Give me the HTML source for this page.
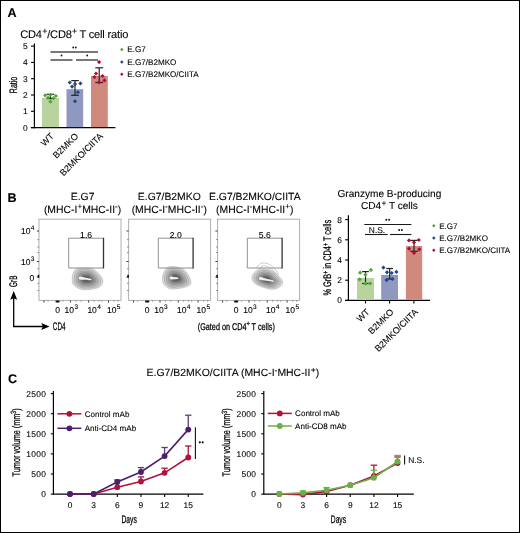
<!DOCTYPE html>
<html><head><meta charset="utf-8"><style>
html,body{margin:0;padding:0;background:#fff;}
#fig{position:relative;width:520px;height:533px;overflow:hidden;background:#fff;}
#fig svg{position:absolute;left:0;top:0;opacity:0.999;}
#frame{position:absolute;left:0;top:0;width:520px;height:533px;box-sizing:border-box;border:1px solid #000;}
text{font-family:"Liberation Sans", sans-serif;text-rendering:geometricPrecision;stroke:#000;stroke-width:0.1px;}
</style></head><body><div id="fig">
<svg width="520" height="533" viewBox="0 0 520 533" font-family='"Liberation Sans", sans-serif'>
<g class="B_contours"><defs><filter id="cb" x="-20%" y="-20%" width="140%" height="140%"><feGaussianBlur stdDeviation="0.55"/></filter></defs></g>
<g class="B_contours"><g filter="url(#cb)"><path d="M72.20 278.50C72.32 275.87 73.32 271.57 75.00 269.80C76.68 268.03 79.17 267.97 82.30 267.90C85.43 267.83 90.42 267.50 93.80 269.40C97.18 271.30 101.73 276.32 102.60 279.30C103.47 282.28 102.10 285.55 99.00 287.30C95.90 289.05 88.12 290.08 84.00 289.80C79.88 289.52 76.27 287.48 74.30 285.60C72.33 283.72 72.08 281.13 72.20 278.50Z" fill="#dadada" stroke="#b0b0b0" stroke-width="0.6"/><path d="M74.20 278.60C74.30 276.33 75.16 272.64 76.61 271.12C78.06 269.60 80.19 269.54 82.89 269.48C85.58 269.42 89.87 269.14 92.78 270.77C95.69 272.41 99.60 276.72 100.35 279.29C101.09 281.85 99.92 284.66 97.25 286.17C94.58 287.67 87.89 288.56 84.35 288.32C80.81 288.07 77.70 286.32 76.01 284.70C74.32 283.08 74.10 280.86 74.20 278.60Z" fill="#c6c6c6" stroke="#808080" stroke-width="0.35"/><path d="M76.20 278.70C76.29 276.80 77.01 273.70 78.22 272.43C79.43 271.16 81.22 271.11 83.48 271.06C85.73 271.02 89.32 270.78 91.76 272.14C94.19 273.51 97.47 277.12 98.09 279.27C98.72 281.42 97.73 283.77 95.50 285.03C93.27 286.29 87.66 287.04 84.70 286.83C81.74 286.63 79.13 285.16 77.72 283.81C76.30 282.45 76.12 280.59 76.20 278.70Z" fill="#b0b0b0" stroke="#808080" stroke-width="0.35"/><path d="M78.21 278.79C78.27 277.27 78.85 274.77 79.83 273.75C80.81 272.72 82.25 272.68 84.06 272.65C85.88 272.61 88.77 272.41 90.73 273.52C92.70 274.62 95.34 277.53 95.84 279.26C96.34 280.99 95.55 282.88 93.75 283.90C91.95 284.91 87.44 285.51 85.05 285.35C82.66 285.18 80.56 284.00 79.42 282.91C78.28 281.82 78.14 280.32 78.21 278.79Z" fill="#989898" stroke="#808080" stroke-width="0.35"/><path d="M80.21 278.89C80.26 277.73 80.70 275.84 81.44 275.06C82.18 274.29 83.27 274.26 84.65 274.23C86.03 274.20 88.22 274.05 89.71 274.89C91.20 275.72 93.20 277.93 93.58 279.24C93.97 280.56 93.36 281.99 92.00 282.76C90.64 283.53 87.21 283.99 85.40 283.86C83.59 283.74 82.00 282.84 81.13 282.02C80.27 281.19 80.16 280.05 80.21 278.89Z" fill="#7e7e7e" stroke="#808080" stroke-width="0.35"/><path d="M81.92 278.98C81.96 278.13 82.28 276.76 82.82 276.19C83.36 275.63 84.15 275.61 85.16 275.58C86.16 275.56 87.75 275.46 88.84 276.06C89.92 276.67 91.37 278.28 91.65 279.23C91.93 280.19 91.49 281.23 90.50 281.79C89.51 282.35 87.02 282.68 85.70 282.59C84.38 282.50 83.23 281.85 82.60 281.25C81.97 280.65 81.89 279.82 81.92 278.98Z" fill="#606060" stroke="#808080" stroke-width="0.35"/><path d="M78.81 277.83C78.74 278.33 78.73 279.15 79.79 279.49C80.85 279.82 83.36 279.70 85.15 279.83C86.93 279.97 89.41 280.32 90.49 280.29C91.56 280.26 91.55 279.90 91.59 279.64C91.63 279.38 91.73 279.04 90.71 278.71C89.69 278.38 87.20 278.03 85.45 277.67C83.70 277.30 81.32 276.49 80.21 276.51C79.10 276.54 78.88 277.34 78.81 277.83Z" fill="#efefef"/></g></g>
<g class="B_contours"><g filter="url(#cb)"><path d="M162.40 278.20C162.55 275.60 163.90 271.43 165.40 269.50C166.90 267.57 168.37 266.60 171.40 266.60C174.43 266.60 180.42 267.28 183.60 269.50C186.78 271.72 189.72 277.15 190.50 279.90C191.28 282.65 191.33 284.48 188.30 286.00C185.27 287.52 176.27 289.15 172.30 289.00C168.33 288.85 166.15 286.90 164.50 285.10C162.85 283.30 162.25 280.80 162.40 278.20Z" fill="#dadada" stroke="#b0b0b0" stroke-width="0.6"/><path d="M164.30 278.21C164.43 275.98 165.59 272.39 166.88 270.73C168.17 269.07 169.44 268.24 172.04 268.24C174.65 268.24 179.80 268.83 182.54 270.73C185.27 272.64 187.80 277.31 188.47 279.68C189.14 282.04 189.19 283.62 186.58 284.92C183.97 286.23 176.23 287.63 172.82 287.50C169.41 287.37 167.53 285.70 166.11 284.15C164.69 282.60 164.18 280.45 164.30 278.21Z" fill="#c6c6c6" stroke="#808080" stroke-width="0.35"/><path d="M166.21 278.23C166.32 276.36 167.29 273.36 168.37 271.96C169.45 270.57 170.50 269.88 172.69 269.88C174.87 269.88 179.18 270.37 181.47 271.96C183.76 273.56 185.88 277.47 186.44 279.45C187.00 281.43 187.04 282.75 184.86 283.84C182.67 284.94 176.19 286.11 173.34 286.00C170.48 285.90 168.91 284.49 167.72 283.20C166.53 281.90 166.10 280.10 166.21 278.23Z" fill="#b0b0b0" stroke="#808080" stroke-width="0.35"/><path d="M168.11 278.24C168.20 276.73 168.98 274.32 169.85 273.20C170.72 272.07 171.57 271.51 173.33 271.51C175.09 271.51 178.56 271.91 180.41 273.20C182.25 274.48 183.96 277.63 184.41 279.23C184.86 280.82 184.89 281.89 183.13 282.77C181.37 283.65 176.15 284.59 173.85 284.51C171.55 284.42 170.29 283.29 169.33 282.24C168.37 281.20 168.03 279.75 168.11 278.24Z" fill="#989898" stroke="#808080" stroke-width="0.35"/><path d="M170.02 278.26C170.08 277.11 170.68 275.28 171.34 274.43C172.00 273.58 172.64 273.15 173.98 273.15C175.31 273.15 177.94 273.45 179.34 274.43C180.74 275.40 182.04 277.79 182.38 279.00C182.72 280.21 182.75 281.02 181.41 281.69C180.08 282.36 176.12 283.07 174.37 283.01C172.63 282.94 171.67 282.08 170.94 281.29C170.21 280.50 169.95 279.40 170.02 278.26Z" fill="#7e7e7e" stroke="#808080" stroke-width="0.35"/><path d="M171.65 278.27C171.70 277.44 172.13 276.10 172.61 275.48C173.09 274.87 173.56 274.56 174.53 274.56C175.50 274.56 177.41 274.77 178.43 275.48C179.45 276.19 180.39 277.93 180.64 278.81C180.89 279.69 180.91 280.28 179.94 280.76C178.97 281.25 176.09 281.77 174.82 281.72C173.55 281.68 172.85 281.05 172.32 280.48C171.79 279.90 171.60 279.10 171.65 278.27Z" fill="#606060" stroke="#808080" stroke-width="0.35"/><path d="M169.60 277.83C169.57 278.33 169.96 279.17 170.71 279.40C171.47 279.62 173.00 279.24 174.14 279.19C175.28 279.14 176.81 279.24 177.55 279.10C178.30 278.96 178.58 278.62 178.60 278.36C178.61 278.09 178.37 277.73 177.65 277.50C176.92 277.28 175.39 277.19 174.26 277.01C173.14 276.83 171.67 276.27 170.89 276.40C170.11 276.54 169.63 277.33 169.60 277.83Z" fill="#efefef"/></g></g>
<g class="B_contours"><g filter="url(#cb)"><path d="M251.90 277.90C251.75 275.75 253.67 273.00 255.40 271.50C257.13 270.00 259.42 268.98 262.30 268.90C265.18 268.82 269.35 268.98 272.70 271.00C276.05 273.02 281.25 278.33 282.40 281.00C283.55 283.67 281.50 285.63 279.60 287.00C277.70 288.37 274.88 289.63 271.00 289.20C267.12 288.77 259.48 286.28 256.30 284.40C253.12 282.52 252.05 280.05 251.90 277.90Z" fill="#dadada" stroke="#b0b0b0" stroke-width="0.6"/><path d="M253.94 278.12C253.82 276.27 255.46 273.91 256.95 272.62C258.44 271.33 260.41 270.46 262.89 270.38C265.37 270.31 268.95 270.46 271.83 272.19C274.71 273.92 279.18 278.50 280.17 280.79C281.16 283.08 279.40 284.77 277.77 285.95C276.13 287.13 273.71 288.21 270.37 287.84C267.03 287.47 260.47 285.33 257.73 283.71C254.99 282.09 254.07 279.97 253.94 278.12Z" fill="#c6c6c6" stroke="#808080" stroke-width="0.35"/><path d="M255.99 278.35C255.88 276.80 257.26 274.82 258.51 273.74C259.76 272.66 261.40 271.93 263.48 271.87C265.55 271.81 268.55 271.93 270.96 273.38C273.38 274.83 277.12 278.66 277.95 280.58C278.78 282.50 277.30 283.92 275.93 284.90C274.56 285.88 272.54 286.80 269.74 286.48C266.94 286.17 261.45 284.38 259.16 283.03C256.86 281.67 256.10 279.90 255.99 278.35Z" fill="#b0b0b0" stroke="#808080" stroke-width="0.35"/><path d="M258.03 278.57C257.94 277.32 259.06 275.73 260.06 274.86C261.07 273.99 262.39 273.40 264.06 273.35C265.74 273.30 268.15 273.40 270.10 274.57C272.04 275.74 275.05 278.82 275.72 280.37C276.39 281.92 275.20 283.06 274.10 283.85C273.00 284.64 271.36 285.38 269.11 285.13C266.86 284.87 262.43 283.43 260.58 282.34C258.74 281.25 258.12 279.82 258.03 278.57Z" fill="#989898" stroke="#808080" stroke-width="0.35"/><path d="M260.08 278.80C260.01 277.85 260.85 276.64 261.62 275.98C262.38 275.32 263.38 274.87 264.65 274.84C265.92 274.80 267.75 274.87 269.23 275.76C270.70 276.65 272.99 278.99 273.50 280.16C274.00 281.33 273.10 282.20 272.26 282.80C271.43 283.40 270.19 283.96 268.48 283.77C266.77 283.58 263.41 282.48 262.01 281.66C260.61 280.83 260.14 279.74 260.08 278.80Z" fill="#7e7e7e" stroke="#808080" stroke-width="0.35"/><path d="M261.83 278.99C261.78 278.30 262.39 277.42 262.95 276.94C263.50 276.46 264.23 276.13 265.16 276.11C266.08 276.08 267.41 276.13 268.48 276.78C269.56 277.43 271.22 279.13 271.59 279.98C271.96 280.83 271.30 281.46 270.69 281.90C270.08 282.34 269.18 282.74 267.94 282.60C266.70 282.47 264.25 281.67 263.24 281.07C262.22 280.47 261.88 279.68 261.83 278.99Z" fill="#606060" stroke="#808080" stroke-width="0.35"/><path d="M259.03 278.16C258.92 278.65 258.69 279.43 259.89 279.87C261.09 280.30 264.12 280.45 266.23 280.77C268.33 281.09 271.30 281.71 272.54 281.78C273.78 281.86 273.62 281.46 273.68 281.20C273.73 280.94 274.03 280.65 272.86 280.22C271.70 279.79 268.73 279.18 266.67 278.63C264.61 278.08 261.78 277.01 260.51 276.93C259.23 276.85 259.13 277.67 259.03 278.16Z" fill="#efefef"/><path d="M256.7 268.5 C257.5 264.5 261 262.8 264.5 263 C270 263.5 276 268 278.3 275" fill="none" stroke="#9a9a9a" stroke-width="0.5"/><path d="M259 269.5 C260 266.8 262.5 265.6 265 265.9 C269.5 266.5 274 270 276 275" fill="none" stroke="#9a9a9a" stroke-width="0.5"/></g></g>
<g class="A_letter"><text x="7.6" y="16.8" font-size="12.6" text-anchor="start" font-weight="bold" fill="#000" >A</text></g>
<g class="A_title"><text x="20.2" y="37.7" font-size="11.1" textLength="108.2" lengthAdjust="spacing" fill="#000">CD4<tspan font-size="9" dx="0.3" dy="-3.4">+</tspan><tspan dy="3.4">/CD8</tspan><tspan font-size="9" dx="0.3" dy="-3.4">+</tspan><tspan dy="3.4" dx="-0.4"> T cell ratio</tspan></text></g>
<g class="A_axes"><line x1="34.4" y1="43.4" x2="34.4" y2="128.2" stroke="#000" stroke-width="1.2" /></g>
<g class="A_axes"><line x1="30.8" y1="127.6" x2="115.4" y2="127.6" stroke="#000" stroke-width="1.2" /></g>
<g class="A_axes"><line x1="31" y1="127.6" x2="34.4" y2="127.6" stroke="#000" stroke-width="1.1" /></g>
<g class="A_axes"><line x1="31" y1="111.3" x2="34.4" y2="111.3" stroke="#000" stroke-width="1.1" /></g>
<g class="A_axes"><line x1="31" y1="95.0" x2="34.4" y2="95.0" stroke="#000" stroke-width="1.1" /></g>
<g class="A_axes"><line x1="31" y1="78.69999999999999" x2="34.4" y2="78.69999999999999" stroke="#000" stroke-width="1.1" /></g>
<g class="A_axes"><line x1="31" y1="62.39999999999999" x2="34.4" y2="62.39999999999999" stroke="#000" stroke-width="1.1" /></g>
<g class="A_axes"><line x1="31" y1="46.099999999999994" x2="34.4" y2="46.099999999999994" stroke="#000" stroke-width="1.1" /></g>
<g class="A_ticklab"><text x="27.6" y="130.6" font-size="8.4" text-anchor="end" font-weight="normal" fill="#000" >0</text></g>
<g class="A_ticklab"><text x="27.6" y="114.3" font-size="8.4" text-anchor="end" font-weight="normal" fill="#000" >1</text></g>
<g class="A_ticklab"><text x="27.6" y="98.0" font-size="8.4" text-anchor="end" font-weight="normal" fill="#000" >2</text></g>
<g class="A_ticklab"><text x="27.6" y="81.69999999999999" font-size="8.4" text-anchor="end" font-weight="normal" fill="#000" >3</text></g>
<g class="A_ticklab"><text x="27.6" y="65.39999999999999" font-size="8.4" text-anchor="end" font-weight="normal" fill="#000" >4</text></g>
<g class="A_ticklab"><text x="27.6" y="49.099999999999994" font-size="8.4" text-anchor="end" font-weight="normal" fill="#000" >5</text></g>
<g class="A_ylab"><text transform="translate(16.9,85.0) rotate(-90)" x="0" y="0" font-size="10.8" text-anchor="middle" textLength="16.3" lengthAdjust="spacingAndGlyphs" fill="#000" style="stroke-width:0.28px">Ratio</text></g>
<g class="A_bars"><rect x="41.9" y="98.0" width="17.0" height="29.099999999999994" fill="#b8d39e" /></g>
<g class="A_bars"><rect x="66.5" y="89.2" width="16.700000000000003" height="37.89999999999999" fill="#8f98bf" /></g>
<g class="A_bars"><rect x="91.0" y="76.0" width="16.799999999999997" height="51.099999999999994" fill="#cf897d" /></g>
<g class="A_err"><line x1="50.5" y1="94.3" x2="50.5" y2="98.5" stroke="#222" stroke-width="1.2" /></g>
<g class="A_err"><line x1="46.7" y1="94.3" x2="54.3" y2="94.3" stroke="#222" stroke-width="1.2" /></g>
<g class="A_err"><line x1="46.7" y1="98.5" x2="54.3" y2="98.5" stroke="#222" stroke-width="1.2" /></g>
<g class="A_err"><line x1="75.0" y1="80.6" x2="75.0" y2="95.3" stroke="#222" stroke-width="1.2" /></g>
<g class="A_err"><line x1="71.2" y1="80.6" x2="78.8" y2="80.6" stroke="#222" stroke-width="1.2" /></g>
<g class="A_err"><line x1="71.2" y1="95.3" x2="78.8" y2="95.3" stroke="#222" stroke-width="1.2" /></g>
<g class="A_err"><line x1="99.2" y1="67.8" x2="99.2" y2="82.5" stroke="#222" stroke-width="1.2" /></g>
<g class="A_err"><line x1="95.3" y1="67.8" x2="103.10000000000001" y2="67.8" stroke="#222" stroke-width="1.2" /></g>
<g class="A_err"><line x1="95.3" y1="82.5" x2="103.10000000000001" y2="82.5" stroke="#222" stroke-width="1.2" /></g>
<g class="A_dots"><path d="M45.2 93.2L47.300000000000004 95.3L45.2 97.39999999999999L43.1 95.3Z" fill="#4fa82e"/></g>
<g class="A_dots"><path d="M50.4 92.7L52.5 94.8L50.4 96.89999999999999L48.3 94.8Z" fill="#4fa82e"/></g>
<g class="A_dots"><path d="M55.9 93.9L58.0 96.0L55.9 98.1L53.8 96.0Z" fill="#4fa82e"/></g>
<g class="A_dots"><path d="M48.1 95.60000000000001L50.2 97.7L48.1 99.8L46.0 97.7Z" fill="#4fa82e"/></g>
<g class="A_dots"><path d="M53.5 96.10000000000001L55.6 98.2L53.5 100.3L51.4 98.2Z" fill="#4fa82e"/></g>
<g class="A_dots"><path d="M50.4 99.60000000000001L52.5 101.7L50.4 103.8L48.3 101.7Z" fill="#4fa82e"/></g>
<g class="A_dots"><path d="M69.75 80.4L71.85 82.5L69.75 84.6L67.65 82.5Z" fill="#1c4592"/></g>
<g class="A_dots"><path d="M75 81.9L77.1 84L75 86.1L72.9 84Z" fill="#1c4592"/></g>
<g class="A_dots"><path d="M80.4 81.30000000000001L82.5 83.4L80.4 85.5L78.30000000000001 83.4Z" fill="#1c4592"/></g>
<g class="A_dots"><path d="M72.1 84.5L74.19999999999999 86.6L72.1 88.69999999999999L70.0 86.6Z" fill="#1c4592"/></g>
<g class="A_dots"><path d="M77.9 90.15L80.0 92.25L77.9 94.35L75.80000000000001 92.25Z" fill="#1c4592"/></g>
<g class="A_dots"><path d="M75 99.15L77.1 101.25L75 103.35L72.9 101.25Z" fill="#1c4592"/></g>
<g class="A_dots"><path d="M99.1 60.0L101.19999999999999 62.1L99.1 64.2L97.0 62.1Z" fill="#b3093a"/></g>
<g class="A_dots"><path d="M96 71.4L98.1 73.5L96 75.6L93.9 73.5Z" fill="#b3093a"/></g>
<g class="A_dots"><path d="M94.4 75.0L96.5 77.1L94.4 79.19999999999999L92.30000000000001 77.1Z" fill="#b3093a"/></g>
<g class="A_dots"><path d="M102.5 73.9L104.6 76L102.5 78.1L100.4 76Z" fill="#b3093a"/></g>
<g class="A_dots"><path d="M104.4 78.30000000000001L106.5 80.4L104.4 82.5L102.30000000000001 80.4Z" fill="#b3093a"/></g>
<g class="A_dots"><path d="M99.1 80.4L101.19999999999999 82.5L99.1 84.6L97.0 82.5Z" fill="#b3093a"/></g>
<g class="A_sig"><line x1="50.5" y1="52" x2="98" y2="52" stroke="#4d4d4d" stroke-width="1.5" /></g>
<g class="A_sig"><line x1="50.5" y1="60" x2="72.5" y2="60" stroke="#4d4d4d" stroke-width="1.5" /></g>
<g class="A_sig"><line x1="76" y1="60" x2="98" y2="60" stroke="#4d4d4d" stroke-width="1.5" /></g>
<g class="A_sig"><circle cx="73.2" cy="47.5" r="0.9" fill="#111"/></g>
<g class="A_sig"><circle cx="75.8" cy="47.5" r="0.9" fill="#111"/></g>
<g class="A_sig"><circle cx="61.5" cy="55.5" r="0.9" fill="#111"/></g>
<g class="A_sig"><circle cx="87.2" cy="55.5" r="0.9" fill="#111"/></g>
<g class="A_xl0"><text transform="translate(49.9,132.2) rotate(-45)" x="0" y="0" font-size="9.0" text-anchor="end" fill="#000" dominant-baseline="hanging">WT</text></g>
<g class="A_xl1"><text transform="translate(74.35,132.2) rotate(-45)" x="0" y="0" font-size="9.0" text-anchor="end" fill="#000" dominant-baseline="hanging">B2MKO</text></g>
<g class="A_xl2"><text transform="translate(98.9,132.2) rotate(-45)" x="0" y="0" font-size="9.0" text-anchor="end" fill="#000" dominant-baseline="hanging">B2MKO/CIITA</text></g>
<g class="A_leg"><path d="M121.8 47.8L123.5 49.5L121.8 51.2L120.1 49.5Z" fill="#4fa82e"/></g>
<g class="A_leg"><text x="127.3" y="52.4" font-size="8.1" text-anchor="start" font-weight="normal" fill="#000" >E.G7</text></g>
<g class="A_leg"><path d="M121.8 60.3L123.5 62.0L121.8 63.7L120.1 62.0Z" fill="#1c4592"/></g>
<g class="A_leg"><text x="127.3" y="64.9" font-size="8.1" text-anchor="start" font-weight="normal" fill="#000" >E.G7/B2MKO</text></g>
<g class="A_leg"><path d="M121.8 72.6L123.5 74.3L121.8 76.0L120.1 74.3Z" fill="#b3093a"/></g>
<g class="A_leg"><text x="127.3" y="77.2" font-size="8.1" text-anchor="start" font-weight="normal" fill="#000" >E.G7/B2MKO/CIITA</text></g>
<g class="B_letter"><text x="7.6" y="201.7" font-size="12.6" text-anchor="start" font-weight="bold" fill="#000" >B</text></g>
<g class="B_t0a"><text x="82.6" y="200.0" font-size="10.4" text-anchor="middle" font-weight="normal" fill="#000" >E.G7</text></g>
<g class="B_t0b"><text x="82.6" y="212.5" font-size="10.4" text-anchor="middle" fill="#000">(MHC-I<tspan font-size="8.2" dy="-3.2">+</tspan><tspan dy="3.2">MHC-II</tspan><tspan font-size="8.2" dy="-3.2">-</tspan><tspan dy="3.2">)</tspan></text></g>
<g class="B_t1a"><text x="169.3" y="200.0" font-size="10.4" text-anchor="middle" font-weight="normal" fill="#000" >E.G7/B2MKO</text></g>
<g class="B_t1b"><text x="169.3" y="212.5" font-size="10.4" text-anchor="middle" fill="#000">(MHC-I<tspan font-size="8.2" dy="-3.2">-</tspan><tspan dy="3.2">MHC-II</tspan><tspan font-size="8.2" dy="-3.2">-</tspan><tspan dy="3.2">)</tspan></text></g>
<g class="B_t2a"><text x="254.8" y="200.0" font-size="10.4" text-anchor="middle" font-weight="normal" fill="#000" >E.G7/B2MKO/CIITA</text></g>
<g class="B_t2b"><text x="254.8" y="212.5" font-size="10.4" text-anchor="middle" fill="#000">(MHC-I<tspan font-size="8.2" dy="-3.2">-</tspan><tspan dy="3.2">MHC-II</tspan><tspan font-size="8.2" dy="-3.2">+</tspan><tspan dy="3.2">)</tspan></text></g>
<g class="B_box0"><rect x="39.0" y="219.2" width="82.0" height="81.19999999999999" fill="none" stroke="#b0b0b0" stroke-width="1"/></g>
<g class="B_box0"><line x1="36.8" y1="231.0" x2="39.0" y2="231.0" stroke="#444" stroke-width="1" /></g>
<g class="B_box0"><line x1="36.8" y1="261.5" x2="39.0" y2="261.5" stroke="#444" stroke-width="1" /></g>
<g class="B_box0"><line x1="36.8" y1="277.0" x2="39.0" y2="277.0" stroke="#444" stroke-width="1" /></g>
<g class="B_box0"><line x1="37.5" y1="239.6" x2="39.0" y2="239.6" stroke="#666" stroke-width="0.8" /></g>
<g class="B_box0"><line x1="37.5" y1="247" x2="39.0" y2="247" stroke="#666" stroke-width="0.8" /></g>
<g class="B_box0"><line x1="37.5" y1="252.5" x2="39.0" y2="252.5" stroke="#666" stroke-width="0.8" /></g>
<g class="B_box0"><line x1="37.5" y1="268.8" x2="39.0" y2="268.8" stroke="#666" stroke-width="0.8" /></g>
<g class="B_box0"><line x1="37.5" y1="283.3" x2="39.0" y2="283.3" stroke="#666" stroke-width="0.8" /></g>
<g class="B_box0"><line x1="37.5" y1="290.5" x2="39.0" y2="290.5" stroke="#666" stroke-width="0.8" /></g>
<g class="B_box0"><rect x="37.7" y="274.8" width="1.6" height="3.0" fill="#111" /></g>
<g class="B_box0"><line x1="44.0" y1="300.4" x2="44.0" y2="302.59999999999997" stroke="#444" stroke-width="1" /></g>
<g class="B_box0"><line x1="57.4" y1="300.4" x2="57.4" y2="302.59999999999997" stroke="#444" stroke-width="1" /></g>
<g class="B_box0"><line x1="70.4" y1="300.4" x2="70.4" y2="302.59999999999997" stroke="#444" stroke-width="1" /></g>
<g class="B_box0"><line x1="88.6" y1="300.4" x2="88.6" y2="302.59999999999997" stroke="#444" stroke-width="1" /></g>
<g class="B_box0"><line x1="108.5" y1="300.4" x2="108.5" y2="302.59999999999997" stroke="#444" stroke-width="1" /></g>
<g class="B_box0"><line x1="48.0" y1="300.4" x2="48.0" y2="301.79999999999995" stroke="#777" stroke-width="0.7" /></g>
<g class="B_box0"><line x1="63.0" y1="300.4" x2="63.0" y2="301.79999999999995" stroke="#777" stroke-width="0.7" /></g>
<g class="B_box0"><line x1="76.0" y1="300.4" x2="76.0" y2="301.79999999999995" stroke="#777" stroke-width="0.7" /></g>
<g class="B_box0"><line x1="81.0" y1="300.4" x2="81.0" y2="301.79999999999995" stroke="#777" stroke-width="0.7" /></g>
<g class="B_box0"><line x1="94.0" y1="300.4" x2="94.0" y2="301.79999999999995" stroke="#777" stroke-width="0.7" /></g>
<g class="B_box0"><line x1="99.0" y1="300.4" x2="99.0" y2="301.79999999999995" stroke="#777" stroke-width="0.7" /></g>
<g class="B_box0"><line x1="102.0" y1="300.4" x2="102.0" y2="301.79999999999995" stroke="#777" stroke-width="0.7" /></g>
<g class="B_box0"><line x1="114.0" y1="300.4" x2="114.0" y2="301.79999999999995" stroke="#777" stroke-width="0.7" /></g>
<g class="B_box0"><line x1="118.0" y1="300.4" x2="118.0" y2="301.79999999999995" stroke="#777" stroke-width="0.7" /></g>
<g class="B_box0"><rect x="55.6" y="300.59999999999997" width="4.0" height="1.8" fill="#111" /></g>
<g class="B_gate0"><path d="M103.5 238.2 L68.7 238.2 L68.7 268.0 L103.5 268.0" fill="none" stroke="#858585" stroke-width="0.9"/></g>
<g class="B_gate0"><line x1="103.5" y1="237.8" x2="103.5" y2="268.4" stroke="#333" stroke-width="1.3" /></g>
<g class="B_gl0"><text x="86.1" y="238.0" font-size="8.6" text-anchor="middle" font-weight="normal" fill="#000" >1.6</text></g>
<g class="B_xl0"><text x="57.6" y="312.6" font-size="8.5" text-anchor="middle" font-weight="normal" fill="#000" >0</text></g>
<g class="B_xl0"><text x="64.6" y="312.6" font-size="8.5" fill="#000">10<tspan font-size="6.6" dx="0.4" dy="-3.7">3</tspan></text></g>
<g class="B_xl0"><text x="87.4" y="312.6" font-size="8.5" fill="#000">10<tspan font-size="6.6" dx="0.4" dy="-3.7">4</tspan></text></g>
<g class="B_xl0"><text x="107.0" y="312.6" font-size="8.5" fill="#000">10<tspan font-size="6.6" dx="0.4" dy="-3.7">5</tspan></text></g>
<g class="B_box1"><rect x="128.6" y="219.2" width="82.0" height="81.19999999999999" fill="none" stroke="#b0b0b0" stroke-width="1"/></g>
<g class="B_box1"><line x1="126.39999999999999" y1="231.0" x2="128.6" y2="231.0" stroke="#444" stroke-width="1" /></g>
<g class="B_box1"><line x1="126.39999999999999" y1="261.5" x2="128.6" y2="261.5" stroke="#444" stroke-width="1" /></g>
<g class="B_box1"><line x1="126.39999999999999" y1="277.0" x2="128.6" y2="277.0" stroke="#444" stroke-width="1" /></g>
<g class="B_box1"><line x1="127.1" y1="239.6" x2="128.6" y2="239.6" stroke="#666" stroke-width="0.8" /></g>
<g class="B_box1"><line x1="127.1" y1="247" x2="128.6" y2="247" stroke="#666" stroke-width="0.8" /></g>
<g class="B_box1"><line x1="127.1" y1="252.5" x2="128.6" y2="252.5" stroke="#666" stroke-width="0.8" /></g>
<g class="B_box1"><line x1="127.1" y1="268.8" x2="128.6" y2="268.8" stroke="#666" stroke-width="0.8" /></g>
<g class="B_box1"><line x1="127.1" y1="283.3" x2="128.6" y2="283.3" stroke="#666" stroke-width="0.8" /></g>
<g class="B_box1"><line x1="127.1" y1="290.5" x2="128.6" y2="290.5" stroke="#666" stroke-width="0.8" /></g>
<g class="B_box1"><rect x="127.3" y="274.8" width="1.6" height="3.0" fill="#111" /></g>
<g class="B_box1"><line x1="133.6" y1="300.4" x2="133.6" y2="302.59999999999997" stroke="#444" stroke-width="1" /></g>
<g class="B_box1"><line x1="147.0" y1="300.4" x2="147.0" y2="302.59999999999997" stroke="#444" stroke-width="1" /></g>
<g class="B_box1"><line x1="160.0" y1="300.4" x2="160.0" y2="302.59999999999997" stroke="#444" stroke-width="1" /></g>
<g class="B_box1"><line x1="178.2" y1="300.4" x2="178.2" y2="302.59999999999997" stroke="#444" stroke-width="1" /></g>
<g class="B_box1"><line x1="198.1" y1="300.4" x2="198.1" y2="302.59999999999997" stroke="#444" stroke-width="1" /></g>
<g class="B_box1"><line x1="137.6" y1="300.4" x2="137.6" y2="301.79999999999995" stroke="#777" stroke-width="0.7" /></g>
<g class="B_box1"><line x1="152.6" y1="300.4" x2="152.6" y2="301.79999999999995" stroke="#777" stroke-width="0.7" /></g>
<g class="B_box1"><line x1="165.6" y1="300.4" x2="165.6" y2="301.79999999999995" stroke="#777" stroke-width="0.7" /></g>
<g class="B_box1"><line x1="170.6" y1="300.4" x2="170.6" y2="301.79999999999995" stroke="#777" stroke-width="0.7" /></g>
<g class="B_box1"><line x1="183.6" y1="300.4" x2="183.6" y2="301.79999999999995" stroke="#777" stroke-width="0.7" /></g>
<g class="B_box1"><line x1="188.6" y1="300.4" x2="188.6" y2="301.79999999999995" stroke="#777" stroke-width="0.7" /></g>
<g class="B_box1"><line x1="191.6" y1="300.4" x2="191.6" y2="301.79999999999995" stroke="#777" stroke-width="0.7" /></g>
<g class="B_box1"><line x1="203.6" y1="300.4" x2="203.6" y2="301.79999999999995" stroke="#777" stroke-width="0.7" /></g>
<g class="B_box1"><line x1="207.6" y1="300.4" x2="207.6" y2="301.79999999999995" stroke="#777" stroke-width="0.7" /></g>
<g class="B_box1"><rect x="145.2" y="300.59999999999997" width="4.0" height="1.8" fill="#111" /></g>
<g class="B_gate1"><path d="M193.09999999999997 238.2 L158.29999999999998 238.2 L158.29999999999998 268.0 L193.09999999999997 268.0" fill="none" stroke="#858585" stroke-width="0.9"/></g>
<g class="B_gate1"><line x1="193.09999999999997" y1="237.8" x2="193.09999999999997" y2="268.4" stroke="#333" stroke-width="1.3" /></g>
<g class="B_gl1"><text x="175.7" y="238.0" font-size="8.6" text-anchor="middle" font-weight="normal" fill="#000" >2.0</text></g>
<g class="B_xl1"><text x="147.2" y="312.6" font-size="8.5" text-anchor="middle" font-weight="normal" fill="#000" >0</text></g>
<g class="B_xl1"><text x="154.2" y="312.6" font-size="8.5" fill="#000">10<tspan font-size="6.6" dx="0.4" dy="-3.7">3</tspan></text></g>
<g class="B_xl1"><text x="177.0" y="312.6" font-size="8.5" fill="#000">10<tspan font-size="6.6" dx="0.4" dy="-3.7">4</tspan></text></g>
<g class="B_xl1"><text x="196.6" y="312.6" font-size="8.5" fill="#000">10<tspan font-size="6.6" dx="0.4" dy="-3.7">5</tspan></text></g>
<g class="B_box2"><rect x="217.6" y="219.2" width="82.0" height="81.19999999999999" fill="none" stroke="#b0b0b0" stroke-width="1"/></g>
<g class="B_box2"><line x1="215.4" y1="231.0" x2="217.6" y2="231.0" stroke="#444" stroke-width="1" /></g>
<g class="B_box2"><line x1="215.4" y1="261.5" x2="217.6" y2="261.5" stroke="#444" stroke-width="1" /></g>
<g class="B_box2"><line x1="215.4" y1="277.0" x2="217.6" y2="277.0" stroke="#444" stroke-width="1" /></g>
<g class="B_box2"><line x1="216.1" y1="239.6" x2="217.6" y2="239.6" stroke="#666" stroke-width="0.8" /></g>
<g class="B_box2"><line x1="216.1" y1="247" x2="217.6" y2="247" stroke="#666" stroke-width="0.8" /></g>
<g class="B_box2"><line x1="216.1" y1="252.5" x2="217.6" y2="252.5" stroke="#666" stroke-width="0.8" /></g>
<g class="B_box2"><line x1="216.1" y1="268.8" x2="217.6" y2="268.8" stroke="#666" stroke-width="0.8" /></g>
<g class="B_box2"><line x1="216.1" y1="283.3" x2="217.6" y2="283.3" stroke="#666" stroke-width="0.8" /></g>
<g class="B_box2"><line x1="216.1" y1="290.5" x2="217.6" y2="290.5" stroke="#666" stroke-width="0.8" /></g>
<g class="B_box2"><rect x="216.29999999999998" y="274.8" width="1.6" height="3.0" fill="#111" /></g>
<g class="B_box2"><line x1="222.6" y1="300.4" x2="222.6" y2="302.59999999999997" stroke="#444" stroke-width="1" /></g>
<g class="B_box2"><line x1="236.0" y1="300.4" x2="236.0" y2="302.59999999999997" stroke="#444" stroke-width="1" /></g>
<g class="B_box2"><line x1="249.0" y1="300.4" x2="249.0" y2="302.59999999999997" stroke="#444" stroke-width="1" /></g>
<g class="B_box2"><line x1="267.2" y1="300.4" x2="267.2" y2="302.59999999999997" stroke="#444" stroke-width="1" /></g>
<g class="B_box2"><line x1="287.1" y1="300.4" x2="287.1" y2="302.59999999999997" stroke="#444" stroke-width="1" /></g>
<g class="B_box2"><line x1="226.6" y1="300.4" x2="226.6" y2="301.79999999999995" stroke="#777" stroke-width="0.7" /></g>
<g class="B_box2"><line x1="241.6" y1="300.4" x2="241.6" y2="301.79999999999995" stroke="#777" stroke-width="0.7" /></g>
<g class="B_box2"><line x1="254.6" y1="300.4" x2="254.6" y2="301.79999999999995" stroke="#777" stroke-width="0.7" /></g>
<g class="B_box2"><line x1="259.6" y1="300.4" x2="259.6" y2="301.79999999999995" stroke="#777" stroke-width="0.7" /></g>
<g class="B_box2"><line x1="272.6" y1="300.4" x2="272.6" y2="301.79999999999995" stroke="#777" stroke-width="0.7" /></g>
<g class="B_box2"><line x1="277.6" y1="300.4" x2="277.6" y2="301.79999999999995" stroke="#777" stroke-width="0.7" /></g>
<g class="B_box2"><line x1="280.6" y1="300.4" x2="280.6" y2="301.79999999999995" stroke="#777" stroke-width="0.7" /></g>
<g class="B_box2"><line x1="292.6" y1="300.4" x2="292.6" y2="301.79999999999995" stroke="#777" stroke-width="0.7" /></g>
<g class="B_box2"><line x1="296.6" y1="300.4" x2="296.6" y2="301.79999999999995" stroke="#777" stroke-width="0.7" /></g>
<g class="B_box2"><rect x="234.2" y="300.59999999999997" width="4.0" height="1.8" fill="#111" /></g>
<g class="B_gate2"><path d="M282.09999999999997 238.2 L247.29999999999998 238.2 L247.29999999999998 268.0 L282.09999999999997 268.0" fill="none" stroke="#858585" stroke-width="0.9"/></g>
<g class="B_gate2"><line x1="282.09999999999997" y1="237.8" x2="282.09999999999997" y2="268.4" stroke="#333" stroke-width="1.3" /></g>
<g class="B_gl2"><text x="264.7" y="238.0" font-size="8.6" text-anchor="middle" font-weight="normal" fill="#000" >5.6</text></g>
<g class="B_xl2"><text x="236.2" y="312.6" font-size="8.5" text-anchor="middle" font-weight="normal" fill="#000" >0</text></g>
<g class="B_xl2"><text x="243.2" y="312.6" font-size="8.5" fill="#000">10<tspan font-size="6.6" dx="0.4" dy="-3.7">3</tspan></text></g>
<g class="B_xl2"><text x="266.0" y="312.6" font-size="8.5" fill="#000">10<tspan font-size="6.6" dx="0.4" dy="-3.7">4</tspan></text></g>
<g class="B_xl2"><text x="285.6" y="312.6" font-size="8.5" fill="#000">10<tspan font-size="6.6" dx="0.4" dy="-3.7">5</tspan></text></g>
<g class="B_yl"><text x="21.0" y="234.0" font-size="8.5" fill="#000">10<tspan font-size="6.6" dx="0.4" dy="-3.7">4</tspan></text></g>
<g class="B_yl"><text x="21.0" y="264.5" font-size="8.5" fill="#000">10<tspan font-size="6.6" dx="0.4" dy="-3.7">3</tspan></text></g>
<g class="B_yl"><text x="34.2" y="281.0" font-size="8.5" text-anchor="end" font-weight="normal" fill="#000" >0</text></g>
<g class="B_arrows"><path d="M13.7 298 L13.7 326.5 L43 326.5" fill="none" stroke="#000" stroke-width="1.3"/></g>
<g class="B_arrows"><path d="M13.7 291.1 L17.2 299.8 L13.7 298.2 L10.2 299.8Z" fill="#000"/></g>
<g class="B_arrows"><path d="M49.6 326.5 L41.2 322.9 L42.8 326.5 L41.2 330.1Z" fill="#000"/></g>
<g class="B_grb"><text transform="translate(17.2,281.25) rotate(-90)" x="0" y="0" font-size="11.0" text-anchor="middle" textLength="11.3" lengthAdjust="spacingAndGlyphs" fill="#000" style="stroke-width:0.28px">GrB</text></g>
<g class="B_cd4"><text x="52.8" y="329.6" font-size="11.0" text-anchor="start" textLength="12.7" lengthAdjust="spacingAndGlyphs" fill="#000" style="stroke-width:0.28px">CD4</text></g>
<g class="B_gated"><text x="197.8" y="329.6" font-size="9.8" text-anchor="start" textLength="77.0" lengthAdjust="spacingAndGlyphs" fill="#000" style="stroke-width:0.28px">(Gated on CD4<tspan font-size="7.6" dy="-3.8">+</tspan><tspan dy="3.8"> T cells)</tspan></text></g>
<g class="B_rtitle"><text x="389.4" y="197.2" font-size="10.1" text-anchor="middle" font-weight="normal" fill="#000" >Granzyme B-producing</text></g>
<g class="B_rtitle"><text x="389.4" y="209.2" font-size="10.1" text-anchor="middle" fill="#000">CD4<tspan font-size="8.4" dx="0.3" dy="-3.3">+</tspan><tspan dy="3.3"> T cells</tspan></text></g>
<g class="B_raxes"><line x1="348.4" y1="215.2" x2="348.4" y2="301.0" stroke="#000" stroke-width="1.2" /></g>
<g class="B_raxes"><line x1="345" y1="300.4" x2="430" y2="300.4" stroke="#000" stroke-width="1.2" /></g>
<g class="B_raxes"><line x1="345.1" y1="300.4" x2="348.4" y2="300.4" stroke="#000" stroke-width="1.1" /></g>
<g class="B_raxes"><line x1="345.1" y1="280.2" x2="348.4" y2="280.2" stroke="#000" stroke-width="1.1" /></g>
<g class="B_raxes"><line x1="345.1" y1="260.0" x2="348.4" y2="260.0" stroke="#000" stroke-width="1.1" /></g>
<g class="B_raxes"><line x1="345.1" y1="239.79999999999998" x2="348.4" y2="239.79999999999998" stroke="#000" stroke-width="1.1" /></g>
<g class="B_raxes"><line x1="345.1" y1="219.59999999999997" x2="348.4" y2="219.59999999999997" stroke="#000" stroke-width="1.1" /></g>
<g class="B_raxes"><line x1="365.5" y1="300.4" x2="365.5" y2="303.4" stroke="#000" stroke-width="1.1" /></g>
<g class="B_raxes"><line x1="389.6" y1="300.4" x2="389.6" y2="303.4" stroke="#000" stroke-width="1.1" /></g>
<g class="B_raxes"><line x1="413.9" y1="300.4" x2="413.9" y2="303.4" stroke="#000" stroke-width="1.1" /></g>
<g class="B_rticklab"><text x="342.0" y="303.4" font-size="8.4" text-anchor="end" font-weight="normal" fill="#000" >0</text></g>
<g class="B_rticklab"><text x="342.0" y="283.2" font-size="8.4" text-anchor="end" font-weight="normal" fill="#000" >2</text></g>
<g class="B_rticklab"><text x="342.0" y="263.0" font-size="8.4" text-anchor="end" font-weight="normal" fill="#000" >4</text></g>
<g class="B_rticklab"><text x="342.0" y="242.79999999999998" font-size="8.4" text-anchor="end" font-weight="normal" fill="#000" >6</text></g>
<g class="B_rticklab"><text x="342.0" y="222.59999999999997" font-size="8.4" text-anchor="end" font-weight="normal" fill="#000" >8</text></g>
<g class="B_rylab"><text transform="translate(331.3,257.7) rotate(-90)" x="0" y="0" font-size="11.0" text-anchor="middle" textLength="75.8" lengthAdjust="spacingAndGlyphs" fill="#000" style="stroke-width:0.28px">% GrB<tspan font-size="7.6" dy="-3.8">+</tspan><tspan dy="3.8"> in CD4</tspan><tspan font-size="7.6" dy="-3.8">+</tspan><tspan dy="3.8"> T cells</tspan></text></g>
<g class="B_rbars"><rect x="357.0" y="278.0" width="17.0" height="21.899999999999977" fill="#b8d39e" /></g>
<g class="B_rbars"><rect x="381.2" y="275.0" width="16.80000000000001" height="24.899999999999977" fill="#8f98bf" /></g>
<g class="B_rbars"><rect x="405.9" y="246.0" width="16.30000000000001" height="53.89999999999998" fill="#cf897d" /></g>
<g class="B_rerr"><line x1="365.5" y1="271.6" x2="365.5" y2="283.5" stroke="#222" stroke-width="1.2" /></g>
<g class="B_rerr"><line x1="362.1" y1="271.6" x2="368.9" y2="271.6" stroke="#222" stroke-width="1.2" /></g>
<g class="B_rerr"><line x1="362.1" y1="283.5" x2="368.9" y2="283.5" stroke="#222" stroke-width="1.2" /></g>
<g class="B_rerr"><line x1="389.7" y1="268.5" x2="389.7" y2="279.0" stroke="#222" stroke-width="1.2" /></g>
<g class="B_rerr"><line x1="386.3" y1="268.5" x2="393.09999999999997" y2="268.5" stroke="#222" stroke-width="1.2" /></g>
<g class="B_rerr"><line x1="386.3" y1="279.0" x2="393.09999999999997" y2="279.0" stroke="#222" stroke-width="1.2" /></g>
<g class="B_rerr"><line x1="414.0" y1="240.4" x2="414.0" y2="251.3" stroke="#222" stroke-width="1.2" /></g>
<g class="B_rerr"><line x1="410.2" y1="240.4" x2="417.8" y2="240.4" stroke="#222" stroke-width="1.2" /></g>
<g class="B_rerr"><line x1="410.2" y1="251.3" x2="417.8" y2="251.3" stroke="#222" stroke-width="1.2" /></g>
<g class="B_rdots"><path d="M370.9 267.79999999999995L373.0 269.9L370.9 272.0L368.79999999999995 269.9Z" fill="#4fa82e"/></g>
<g class="B_rdots"><path d="M360.1 270.59999999999997L362.20000000000005 272.7L360.1 274.8L358.0 272.7Z" fill="#4fa82e"/></g>
<g class="B_rdots"><path d="M365.5 272.59999999999997L367.6 274.7L365.5 276.8L363.4 274.7Z" fill="#4fa82e"/></g>
<g class="B_rdots"><path d="M359.7 277.29999999999995L361.8 279.4L359.7 281.5L357.59999999999997 279.4Z" fill="#4fa82e"/></g>
<g class="B_rdots"><path d="M365.5 281.59999999999997L367.6 283.7L365.5 285.8L363.4 283.7Z" fill="#4fa82e"/></g>
<g class="B_rdots"><path d="M370.2 281.4L372.3 283.5L370.2 285.6L368.09999999999997 283.5Z" fill="#4fa82e"/></g>
<g class="B_rdots"><path d="M383.4 265.5L385.5 267.6L383.4 269.70000000000005L381.29999999999995 267.6Z" fill="#1c4592"/></g>
<g class="B_rdots"><path d="M387 270.2L389.1 272.3L387 274.40000000000003L384.9 272.3Z" fill="#1c4592"/></g>
<g class="B_rdots"><path d="M391.7 270.9L393.8 273L391.7 275.1L389.59999999999997 273Z" fill="#1c4592"/></g>
<g class="B_rdots"><path d="M396.4 269.79999999999995L398.5 271.9L396.4 274.0L394.29999999999995 271.9Z" fill="#1c4592"/></g>
<g class="B_rdots"><path d="M386.6 278.0L388.70000000000005 280.1L386.6 282.20000000000005L384.5 280.1Z" fill="#1c4592"/></g>
<g class="B_rdots"><path d="M392.4 276.9L394.5 279L392.4 281.1L390.29999999999995 279Z" fill="#1c4592"/></g>
<g class="B_rdots"><path d="M409 238.3L411.1 240.4L409 242.5L406.9 240.4Z" fill="#b3093a"/></g>
<g class="B_rdots"><path d="M418.8 237.9L420.90000000000003 240L418.8 242.1L416.7 240Z" fill="#b3093a"/></g>
<g class="B_rdots"><path d="M414 240.20000000000002L416.1 242.3L414 244.4L411.9 242.3Z" fill="#b3093a"/></g>
<g class="B_rdots"><path d="M409 246.6L411.1 248.7L409 250.79999999999998L406.9 248.7Z" fill="#b3093a"/></g>
<g class="B_rdots"><path d="M419.3 247.20000000000002L421.40000000000003 249.3L419.3 251.4L417.2 249.3Z" fill="#b3093a"/></g>
<g class="B_rdots"><path d="M414 250.8L416.1 252.9L414 255.0L411.9 252.9Z" fill="#b3093a"/></g>
<g class="B_rsig"><line x1="364.3" y1="224.5" x2="411.4" y2="224.5" stroke="#1a1a1a" stroke-width="1.1" /></g>
<g class="B_rsig"><line x1="365.0" y1="234.5" x2="387.7" y2="234.5" stroke="#1a1a1a" stroke-width="1.1" /></g>
<g class="B_rsig"><line x1="390.0" y1="234.5" x2="411.4" y2="234.5" stroke="#1a1a1a" stroke-width="1.1" /></g>
<g class="B_rsig"><circle cx="386.3" cy="219.7" r="1.0" fill="#111"/></g>
<g class="B_rsig"><circle cx="389.1" cy="219.7" r="1.0" fill="#111"/></g>
<g class="B_rsig"><circle cx="399.1" cy="230.0" r="1.0" fill="#111"/></g>
<g class="B_rsig"><circle cx="401.9" cy="230.0" r="1.0" fill="#111"/></g>
<g class="B_ns"><text x="377.0" y="233.0" font-size="8.4" text-anchor="middle" font-weight="normal" fill="#000" >N.S.</text></g>
<g class="B_rxl0"><text transform="translate(365.5,308.0) rotate(-45)" x="0" y="0" font-size="9.0" text-anchor="end" fill="#000" dominant-baseline="hanging">WT</text></g>
<g class="B_rxl1"><text transform="translate(389.6,308.0) rotate(-45)" x="0" y="0" font-size="9.0" text-anchor="end" fill="#000" dominant-baseline="hanging">B2MKO</text></g>
<g class="B_rxl2"><text transform="translate(413.9,308.0) rotate(-45)" x="0" y="0" font-size="9.0" text-anchor="end" fill="#000" dominant-baseline="hanging">B2MKO/CIITA</text></g>
<g class="B_rleg"><path d="M433.8 224.0L435.5 225.7L433.8 227.39999999999998L432.1 225.7Z" fill="#4fa82e"/></g>
<g class="B_rleg"><text x="439.2" y="228.6" font-size="8.05" text-anchor="start" font-weight="normal" fill="#000" >E.G7</text></g>
<g class="B_rleg"><path d="M433.8 236.3L435.5 238.0L433.8 239.7L432.1 238.0Z" fill="#1c4592"/></g>
<g class="B_rleg"><text x="439.2" y="240.9" font-size="8.05" text-anchor="start" font-weight="normal" fill="#000" >E.G7/B2MKO</text></g>
<g class="B_rleg"><path d="M433.8 248.60000000000002L435.5 250.3L433.8 252.0L432.1 250.3Z" fill="#b3093a"/></g>
<g class="B_rleg"><text x="439.2" y="253.20000000000002" font-size="8.05" text-anchor="start" font-weight="normal" fill="#000" >E.G7/B2MKO/CIITA</text></g>
<g class="C_letter"><text x="8.0" y="382.6" font-size="12.6" text-anchor="start" font-weight="bold" fill="#000" >C</text></g>
<g class="C_title"><text x="146.6" y="376.3" font-size="10.45" fill="#000">E.G7/B2MKO/CIITA (MHC-I<tspan font-size="8.4" dy="-3.6">-</tspan><tspan dy="3.6">MHC-II</tspan><tspan font-size="8.6" dx="0.4" dy="-3.6">+</tspan><tspan dy="3.6">)</tspan></text></g>
<g class="CL_axes"><line x1="53.4" y1="391.0" x2="53.4" y2="494.70000000000005" stroke="#000" stroke-width="1.2" /></g>
<g class="CL_axes"><line x1="53.4" y1="494.1" x2="203.4" y2="494.1" stroke="#000" stroke-width="1.2" /></g>
<g class="CL_axes"><line x1="50.8" y1="494.1" x2="53.4" y2="494.1" stroke="#000" stroke-width="1.1" /></g>
<g class="CL_axes"><line x1="50.8" y1="474.0" x2="53.4" y2="474.0" stroke="#000" stroke-width="1.1" /></g>
<g class="CL_axes"><line x1="50.8" y1="453.90000000000003" x2="53.4" y2="453.90000000000003" stroke="#000" stroke-width="1.1" /></g>
<g class="CL_axes"><line x1="50.8" y1="433.8" x2="53.4" y2="433.8" stroke="#000" stroke-width="1.1" /></g>
<g class="CL_axes"><line x1="50.8" y1="413.70000000000005" x2="53.4" y2="413.70000000000005" stroke="#000" stroke-width="1.1" /></g>
<g class="CL_axes"><line x1="50.8" y1="393.6" x2="53.4" y2="393.6" stroke="#000" stroke-width="1.1" /></g>
<g class="CL_axes"><line x1="70.0" y1="494.1" x2="70.0" y2="497.1" stroke="#000" stroke-width="1.1" /></g>
<g class="CL_axes"><line x1="93.65" y1="494.1" x2="93.65" y2="497.1" stroke="#000" stroke-width="1.1" /></g>
<g class="CL_axes"><line x1="117.3" y1="494.1" x2="117.3" y2="497.1" stroke="#000" stroke-width="1.1" /></g>
<g class="CL_axes"><line x1="140.95" y1="494.1" x2="140.95" y2="497.1" stroke="#000" stroke-width="1.1" /></g>
<g class="CL_axes"><line x1="164.6" y1="494.1" x2="164.6" y2="497.1" stroke="#000" stroke-width="1.1" /></g>
<g class="CL_axes"><line x1="188.25" y1="494.1" x2="188.25" y2="497.1" stroke="#000" stroke-width="1.1" /></g>
<g class="CL_ytl"><text x="46.2" y="497.1" font-size="8.4" text-anchor="end" font-weight="normal" fill="#000" letter-spacing="0.3">0</text></g>
<g class="CL_ytl"><text x="46.2" y="477.0" font-size="8.4" text-anchor="end" font-weight="normal" fill="#000" letter-spacing="0.3">500</text></g>
<g class="CL_ytl"><text x="46.2" y="456.90000000000003" font-size="8.4" text-anchor="end" font-weight="normal" fill="#000" letter-spacing="0.3">1000</text></g>
<g class="CL_ytl"><text x="46.2" y="436.8" font-size="8.4" text-anchor="end" font-weight="normal" fill="#000" letter-spacing="0.3">1500</text></g>
<g class="CL_ytl"><text x="46.2" y="416.70000000000005" font-size="8.4" text-anchor="end" font-weight="normal" fill="#000" letter-spacing="0.3">2000</text></g>
<g class="CL_ytl"><text x="46.2" y="396.6" font-size="8.4" text-anchor="end" font-weight="normal" fill="#000" letter-spacing="0.3">2500</text></g>
<g class="CL_xtl"><text x="70.0" y="508.2" font-size="8.4" text-anchor="middle" font-weight="normal" fill="#000" >0</text></g>
<g class="CL_xtl"><text x="93.65" y="508.2" font-size="8.4" text-anchor="middle" font-weight="normal" fill="#000" >3</text></g>
<g class="CL_xtl"><text x="117.3" y="508.2" font-size="8.4" text-anchor="middle" font-weight="normal" fill="#000" >6</text></g>
<g class="CL_xtl"><text x="140.95" y="508.2" font-size="8.4" text-anchor="middle" font-weight="normal" fill="#000" >9</text></g>
<g class="CL_xtl"><text x="164.6" y="508.2" font-size="8.4" text-anchor="middle" font-weight="normal" fill="#000" >12</text></g>
<g class="CL_xtl"><text x="188.25" y="508.2" font-size="8.4" text-anchor="middle" font-weight="normal" fill="#000" >15</text></g>
<g class="CL_days"><text x="129.125" y="523.1" font-size="11.0" text-anchor="middle" textLength="15.2" lengthAdjust="spacingAndGlyphs" fill="#000" style="stroke-width:0.28px">Days</text></g>
<g class="CL_ylab"><text transform="translate(20.0,442.4) rotate(-90)" x="0" y="0" font-size="11.0" text-anchor="middle" textLength="68.0" lengthAdjust="spacingAndGlyphs" fill="#000" style="stroke-width:0.28px">Tumor volume (mm<tspan font-size="7.6" dy="-3.8">3</tspan><tspan dy="3.8">)</tspan></text></g>
<g class="CL_series"><line x1="140.95" y1="481.5" x2="140.95" y2="476.9" stroke="#b1113d" stroke-width="1.3" /></g>
<g class="CL_series"><line x1="137.75" y1="476.9" x2="144.14999999999998" y2="476.9" stroke="#b1113d" stroke-width="1.3" /></g>
<g class="CL_series"><line x1="164.6" y1="472.8" x2="164.6" y2="468.2" stroke="#b1113d" stroke-width="1.3" /></g>
<g class="CL_series"><line x1="161.4" y1="468.2" x2="167.79999999999998" y2="468.2" stroke="#b1113d" stroke-width="1.3" /></g>
<g class="CL_series"><line x1="188.25" y1="457.5" x2="188.25" y2="446.0" stroke="#b1113d" stroke-width="1.3" /></g>
<g class="CL_series"><line x1="185.05" y1="446.0" x2="191.45" y2="446.0" stroke="#b1113d" stroke-width="1.3" /></g>
<g class="CL_series"><path d="M70.0 494.0 L93.7 494.0 L117.3 487.2 L140.9 481.5 L164.6 472.8 L188.2 457.5" fill="none" stroke="#b1113d" stroke-width="1.6"/></g>
<g class="CL_series"><circle cx="70.0" cy="494" r="2.9" fill="#b1113d"/></g>
<g class="CL_series"><circle cx="93.65" cy="494" r="2.9" fill="#b1113d"/></g>
<g class="CL_series"><circle cx="117.3" cy="487.2" r="2.9" fill="#b1113d"/></g>
<g class="CL_series"><circle cx="140.95" cy="481.5" r="2.9" fill="#b1113d"/></g>
<g class="CL_series"><circle cx="164.6" cy="472.8" r="2.9" fill="#b1113d"/></g>
<g class="CL_series"><circle cx="188.25" cy="457.5" r="2.9" fill="#b1113d"/></g>
<g class="CL_series"><line x1="117.3" y1="482.0" x2="117.3" y2="480.0" stroke="#5e3b7c" stroke-width="1.3" /></g>
<g class="CL_series"><line x1="114.1" y1="480.0" x2="120.5" y2="480.0" stroke="#5e3b7c" stroke-width="1.3" /></g>
<g class="CL_series"><line x1="140.95" y1="472.0" x2="140.95" y2="467.6" stroke="#5e3b7c" stroke-width="1.3" /></g>
<g class="CL_series"><line x1="137.75" y1="467.6" x2="144.14999999999998" y2="467.6" stroke="#5e3b7c" stroke-width="1.3" /></g>
<g class="CL_series"><line x1="164.6" y1="456.1" x2="164.6" y2="447.5" stroke="#5e3b7c" stroke-width="1.3" /></g>
<g class="CL_series"><line x1="161.4" y1="447.5" x2="167.79999999999998" y2="447.5" stroke="#5e3b7c" stroke-width="1.3" /></g>
<g class="CL_series"><line x1="188.25" y1="429.6" x2="188.25" y2="415.2" stroke="#5e3b7c" stroke-width="1.3" /></g>
<g class="CL_series"><line x1="185.05" y1="415.2" x2="191.45" y2="415.2" stroke="#5e3b7c" stroke-width="1.3" /></g>
<g class="CL_series"><path d="M70.0 494.0 L93.7 494.0 L117.3 482.0 L140.9 472.0 L164.6 456.1 L188.2 429.6" fill="none" stroke="#4a1f6b" stroke-width="1.6"/></g>
<g class="CL_series"><circle cx="70.0" cy="494" r="2.9" fill="#4a1f6b"/></g>
<g class="CL_series"><circle cx="93.65" cy="494" r="2.9" fill="#4a1f6b"/></g>
<g class="CL_series"><circle cx="117.3" cy="482.0" r="2.9" fill="#4a1f6b"/></g>
<g class="CL_series"><circle cx="140.95" cy="472.0" r="2.9" fill="#4a1f6b"/></g>
<g class="CL_series"><circle cx="164.6" cy="456.1" r="2.9" fill="#4a1f6b"/></g>
<g class="CL_series"><circle cx="188.25" cy="429.6" r="2.9" fill="#4a1f6b"/></g>
<g class="CL_leg"><line x1="57.4" y1="413.8" x2="81.4" y2="413.8" stroke="#b1113d" stroke-width="1.5" /></g>
<g class="CL_leg"><circle cx="69.4" cy="413.8" r="2.9" fill="#b1113d"/></g>
<g class="CL_leg"><line x1="57.4" y1="428.3" x2="81.4" y2="428.3" stroke="#4a1f6b" stroke-width="1.5" /></g>
<g class="CL_leg"><circle cx="69.4" cy="428.3" r="2.9" fill="#4a1f6b"/></g>
<g class="CL_legtxt"><text x="84.7" y="416.8" font-size="8.05" text-anchor="start" font-weight="normal" fill="#000" >Control mAb</text></g>
<g class="CL_legtxt"><text x="84.7" y="431.3" font-size="8.05" text-anchor="start" font-weight="normal" fill="#000" >Anti-CD4 mAb</text></g>
<g class="CL_sig"><line x1="195.4" y1="427.3" x2="195.4" y2="459.0" stroke="#111" stroke-width="1.1" /></g>
<g class="CL_sig"><circle cx="199.8" cy="442.3" r="1.1" fill="#111"/></g>
<g class="CL_sig"><circle cx="202.7" cy="442.3" r="1.1" fill="#111"/></g>
<g class="CR_axes"><line x1="263.8" y1="391.0" x2="263.8" y2="494.70000000000005" stroke="#000" stroke-width="1.2" /></g>
<g class="CR_axes"><line x1="263.8" y1="494.1" x2="413.8" y2="494.1" stroke="#000" stroke-width="1.2" /></g>
<g class="CR_axes"><line x1="261.2" y1="494.1" x2="263.8" y2="494.1" stroke="#000" stroke-width="1.1" /></g>
<g class="CR_axes"><line x1="261.2" y1="474.0" x2="263.8" y2="474.0" stroke="#000" stroke-width="1.1" /></g>
<g class="CR_axes"><line x1="261.2" y1="453.90000000000003" x2="263.8" y2="453.90000000000003" stroke="#000" stroke-width="1.1" /></g>
<g class="CR_axes"><line x1="261.2" y1="433.8" x2="263.8" y2="433.8" stroke="#000" stroke-width="1.1" /></g>
<g class="CR_axes"><line x1="261.2" y1="413.70000000000005" x2="263.8" y2="413.70000000000005" stroke="#000" stroke-width="1.1" /></g>
<g class="CR_axes"><line x1="261.2" y1="393.6" x2="263.8" y2="393.6" stroke="#000" stroke-width="1.1" /></g>
<g class="CR_axes"><line x1="279.3" y1="494.1" x2="279.3" y2="497.1" stroke="#000" stroke-width="1.1" /></g>
<g class="CR_axes"><line x1="302.95" y1="494.1" x2="302.95" y2="497.1" stroke="#000" stroke-width="1.1" /></g>
<g class="CR_axes"><line x1="326.6" y1="494.1" x2="326.6" y2="497.1" stroke="#000" stroke-width="1.1" /></g>
<g class="CR_axes"><line x1="350.25" y1="494.1" x2="350.25" y2="497.1" stroke="#000" stroke-width="1.1" /></g>
<g class="CR_axes"><line x1="373.9" y1="494.1" x2="373.9" y2="497.1" stroke="#000" stroke-width="1.1" /></g>
<g class="CR_axes"><line x1="397.55" y1="494.1" x2="397.55" y2="497.1" stroke="#000" stroke-width="1.1" /></g>
<g class="CR_ytl"><text x="256.3" y="497.1" font-size="8.4" text-anchor="end" font-weight="normal" fill="#000" letter-spacing="0.3">0</text></g>
<g class="CR_ytl"><text x="256.3" y="477.0" font-size="8.4" text-anchor="end" font-weight="normal" fill="#000" letter-spacing="0.3">500</text></g>
<g class="CR_ytl"><text x="256.3" y="456.90000000000003" font-size="8.4" text-anchor="end" font-weight="normal" fill="#000" letter-spacing="0.3">1000</text></g>
<g class="CR_ytl"><text x="256.3" y="436.8" font-size="8.4" text-anchor="end" font-weight="normal" fill="#000" letter-spacing="0.3">1500</text></g>
<g class="CR_ytl"><text x="256.3" y="416.70000000000005" font-size="8.4" text-anchor="end" font-weight="normal" fill="#000" letter-spacing="0.3">2000</text></g>
<g class="CR_ytl"><text x="256.3" y="396.6" font-size="8.4" text-anchor="end" font-weight="normal" fill="#000" letter-spacing="0.3">2500</text></g>
<g class="CR_xtl"><text x="279.3" y="508.2" font-size="8.4" text-anchor="middle" font-weight="normal" fill="#000" >0</text></g>
<g class="CR_xtl"><text x="302.95" y="508.2" font-size="8.4" text-anchor="middle" font-weight="normal" fill="#000" >3</text></g>
<g class="CR_xtl"><text x="326.6" y="508.2" font-size="8.4" text-anchor="middle" font-weight="normal" fill="#000" >6</text></g>
<g class="CR_xtl"><text x="350.25" y="508.2" font-size="8.4" text-anchor="middle" font-weight="normal" fill="#000" >9</text></g>
<g class="CR_xtl"><text x="373.9" y="508.2" font-size="8.4" text-anchor="middle" font-weight="normal" fill="#000" >12</text></g>
<g class="CR_xtl"><text x="397.55" y="508.2" font-size="8.4" text-anchor="middle" font-weight="normal" fill="#000" >15</text></g>
<g class="CR_days"><text x="338.425" y="523.1" font-size="11.0" text-anchor="middle" textLength="15.2" lengthAdjust="spacingAndGlyphs" fill="#000" style="stroke-width:0.28px">Days</text></g>
<g class="CR_ylab"><text transform="translate(230.3,442.4) rotate(-90)" x="0" y="0" font-size="11.0" text-anchor="middle" textLength="68.0" lengthAdjust="spacingAndGlyphs" fill="#000" style="stroke-width:0.28px">Tumor volume (mm<tspan font-size="7.6" dy="-3.8">3</tspan><tspan dy="3.8">)</tspan></text></g>
<g class="CR_series"><line x1="373.9" y1="476.0" x2="373.9" y2="465.2" stroke="#b1113d" stroke-width="1.3" /></g>
<g class="CR_series"><line x1="370.7" y1="465.2" x2="377.09999999999997" y2="465.2" stroke="#b1113d" stroke-width="1.3" /></g>
<g class="CR_series"><line x1="397.55" y1="463.1" x2="397.55" y2="457.0" stroke="#b1113d" stroke-width="1.3" /></g>
<g class="CR_series"><line x1="394.35" y1="457.0" x2="400.75" y2="457.0" stroke="#b1113d" stroke-width="1.3" /></g>
<g class="CR_series"><path d="M279.3 494.0 L302.9 494.6 L326.6 491.4 L350.2 485.2 L373.9 476.0 L397.6 463.1" fill="none" stroke="#b1113d" stroke-width="1.6"/></g>
<g class="CR_series"><circle cx="279.3" cy="494" r="2.9" fill="#b1113d"/></g>
<g class="CR_series"><circle cx="302.95" cy="494.6" r="2.9" fill="#b1113d"/></g>
<g class="CR_series"><circle cx="326.6" cy="491.4" r="2.9" fill="#b1113d"/></g>
<g class="CR_series"><circle cx="350.25" cy="485.2" r="2.9" fill="#b1113d"/></g>
<g class="CR_series"><circle cx="373.9" cy="476.0" r="2.9" fill="#b1113d"/></g>
<g class="CR_series"><circle cx="397.55" cy="463.1" r="2.9" fill="#b1113d"/></g>
<g class="CR_series"><line x1="302.95" y1="492.9" x2="302.95" y2="491.0" stroke="#69b045" stroke-width="1.3" /></g>
<g class="CR_series"><line x1="299.75" y1="491.0" x2="306.15" y2="491.0" stroke="#69b045" stroke-width="1.3" /></g>
<g class="CR_series"><line x1="326.6" y1="490.2" x2="326.6" y2="487.6" stroke="#69b045" stroke-width="1.3" /></g>
<g class="CR_series"><line x1="323.40000000000003" y1="487.6" x2="329.8" y2="487.6" stroke="#69b045" stroke-width="1.3" /></g>
<g class="CR_series"><line x1="373.9" y1="477.8" x2="373.9" y2="470.2" stroke="#69b045" stroke-width="1.3" /></g>
<g class="CR_series"><line x1="370.7" y1="470.2" x2="377.09999999999997" y2="470.2" stroke="#69b045" stroke-width="1.3" /></g>
<g class="CR_series"><line x1="397.55" y1="461.5" x2="397.55" y2="455.4" stroke="#69b045" stroke-width="1.3" /></g>
<g class="CR_series"><line x1="394.35" y1="455.4" x2="400.75" y2="455.4" stroke="#69b045" stroke-width="1.3" /></g>
<g class="CR_series"><path d="M279.3 494.0 L302.9 492.9 L326.6 490.2 L350.2 485.2 L373.9 477.8 L397.6 461.5" fill="none" stroke="#69b045" stroke-width="1.6"/></g>
<g class="CR_series"><circle cx="279.3" cy="494" r="2.9" fill="#69b045"/></g>
<g class="CR_series"><circle cx="302.95" cy="492.9" r="2.9" fill="#69b045"/></g>
<g class="CR_series"><circle cx="326.6" cy="490.2" r="2.9" fill="#69b045"/></g>
<g class="CR_series"><circle cx="350.25" cy="485.2" r="2.9" fill="#69b045"/></g>
<g class="CR_series"><circle cx="373.9" cy="477.8" r="2.9" fill="#69b045"/></g>
<g class="CR_series"><circle cx="397.55" cy="461.5" r="2.9" fill="#69b045"/></g>
<g class="CR_leg"><line x1="267.8" y1="413.4" x2="291.8" y2="413.4" stroke="#b1113d" stroke-width="1.5" /></g>
<g class="CR_leg"><circle cx="279.8" cy="413.4" r="2.9" fill="#b1113d"/></g>
<g class="CR_leg"><line x1="267.8" y1="426.0" x2="291.8" y2="426.0" stroke="#69b045" stroke-width="1.5" /></g>
<g class="CR_leg"><circle cx="279.8" cy="426.0" r="2.9" fill="#69b045"/></g>
<g class="CR_legtxt"><text x="295.1" y="416.4" font-size="8.05" text-anchor="start" font-weight="normal" fill="#000" >Control mAb</text></g>
<g class="CR_legtxt"><text x="295.1" y="429.0" font-size="8.05" text-anchor="start" font-weight="normal" fill="#000" >Anti-CD8 mAb</text></g>
<g class="CR_sig"><line x1="404.6" y1="455.4" x2="404.6" y2="464.6" stroke="#111" stroke-width="1.1" /></g>
<g class="CR_sig"><text x="408.2" y="463.0" font-size="8.4" text-anchor="start" font-weight="normal" fill="#000" >N.S.</text></g>
</svg>
<div id="frame"></div>
</div></body></html>
